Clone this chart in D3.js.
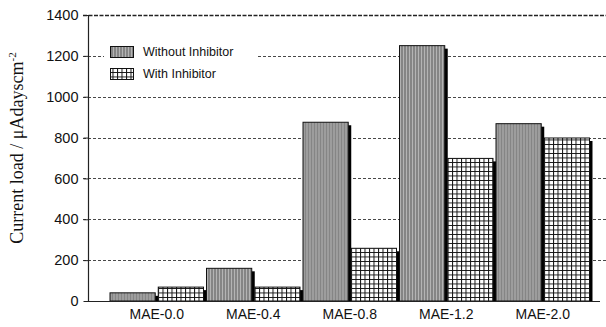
<!DOCTYPE html>
<html>
<head>
<meta charset="utf-8">
<script src="https://cdn.jsdelivr.net/npm/d3@7"></script>
<style>
  html, body { margin: 0; padding: 0; background: #fff; }
  svg { display: block; }
</style>
</head>
<body>
<svg id="chart" width="606" height="327"></svg>
<script>
// Current load per specimen group, with and without inhibitor
const categories = ["MAE-0.0", "MAE-0.4", "MAE-0.8", "MAE-1.2", "MAE-2.0"];
const seriesNames = ["Without Inhibitor", "With Inhibitor"];
const withoutInhibitor = [40, 160, 875, 1250, 868];
const withInhibitor = [68, 68, 258, 698, 798];
const yTicks = [0, 200, 400, 600, 800, 1000, 1200, 1400];

const svg = d3.select("#chart");
const W = 606, H = 327;
const plot = { left: 88, right: 604, top: 15, bottom: 301 };

const defs = svg.append("defs");
// vertical stripe fill
const stripes = defs.append("pattern")
  .attr("id", "stripes").attr("patternUnits", "userSpaceOnUse")
  .attr("width", 3).attr("height", 4);
stripes.append("rect").attr("width", 3).attr("height", 4).attr("fill", "#858585");
stripes.append("rect").attr("x", 2).attr("width", 1).attr("height", 4).attr("fill", "#b4b4b4");
// square grid fill
const grid = defs.append("pattern")
  .attr("id", "grid").attr("patternUnits", "userSpaceOnUse")
  .attr("width", 4.5).attr("height", 4.5);
grid.append("rect").attr("width", 4.5).attr("height", 4.5).attr("fill", "#fff");
grid.append("path").attr("d", "M0,0.5H4.5M0.5,0V4.5")
  .attr("stroke", "#111").attr("stroke-width", 1).attr("fill", "none");

const fills = ["url(#stripes)", "url(#grid)"];

const y = d3.scaleLinear().domain([0, 1400]).range([plot.bottom, plot.top]);
const x = d3.scaleBand().domain(categories).range([108.5, 591]).padding(0);
const xs = d3.scaleBand().domain(seriesNames).range([0, x.bandwidth()])
  .paddingInner(0.0625).paddingOuter(0.03125);

// dashed gridlines with short ticks on the left
const gridG = svg.append("g");
gridG.selectAll("line").data(yTicks.filter(t => t > 0)).join("line")
  .attr("x1", 83).attr("x2", W)
  .attr("y1", d => Math.round(y(d)) + 0.5).attr("y2", d => Math.round(y(d)) + 0.5)
  .attr("stroke", d => d === 1400 ? "#222" : "#333")
  .attr("stroke-width", d => d === 1400 ? 1.4 : 0.9)
  .attr("stroke-dasharray", d => d === 1400 ? "4,1.5" : "3,2");

// y axis
const yAxis = d3.axisLeft(y).tickValues(yTicks).tickFormat(d3.format("d")).tickSize(5).tickPadding(5);
const yg = svg.append("g").attr("transform", `translate(${plot.left + 0.5},0)`).call(yAxis);
yg.select(".domain").remove();
yg.selectAll("line").attr("stroke", "#222");
yg.selectAll("text").attr("font-family", "Liberation Sans, Arial, sans-serif")
  .attr("font-size", 14.5).attr("fill", "#111");
svg.append("line").attr("x1", plot.left + 0.5).attr("x2", plot.left + 0.5)
  .attr("y1", plot.top).attr("y2", plot.bottom).attr("stroke", "#222").attr("stroke-width", 1.2);

// bars
const groups = svg.append("g").selectAll("g").data(categories).join("g")
  .attr("transform", d => `translate(${x(d)},0)`);
const barData = (c, i) => [
  { s: seriesNames[0], v: withoutInhibitor[i], k: 0 },
  { s: seriesNames[1], v: withInhibitor[i], k: 1 }
];
groups.each(function (c, i) {
  const g = d3.select(this);
  const data = barData(c, i);
  // drop shadow
  g.selectAll("rect.shadow").data(data).join("rect").attr("class", "shadow")
    .attr("x", d => xs(d.s) + 3).attr("y", d => y(d.v) + 3)
    .attr("width", xs.bandwidth()).attr("height", d => y(0) - y(d.v) - 3)
    .attr("fill", "#000");
  g.selectAll("rect.bar").data(data).join("rect").attr("class", "bar")
    .attr("x", d => xs(d.s)).attr("y", d => y(d.v))
    .attr("width", xs.bandwidth()).attr("height", d => y(0) - y(d.v))
    .attr("fill", d => fills[d.k]).attr("stroke", "#111").attr("stroke-width", 1);
});

// baseline
svg.append("line").attr("x1", 84).attr("x2", 600)
  .attr("y1", plot.bottom + 0.5).attr("y2", plot.bottom + 0.5)
  .attr("stroke", "#222").attr("stroke-width", 1.2);

// x axis labels
const xAxis = d3.axisBottom(x).tickSize(0).tickPadding(8);
const xg = svg.append("g").attr("transform", `translate(0,${plot.bottom})`).call(xAxis);
xg.select(".domain").remove();
xg.selectAll("text").attr("font-family", "Liberation Sans, Arial, sans-serif")
  .attr("font-size", 14).attr("fill", "#111");

// legend
const legend = svg.append("g");
legend.append("rect").attr("x", 104).attr("y", 38).attr("width", 152).attr("height", 46).attr("fill", "#fff");
seriesNames.forEach((name, i) => {
  const ly = 46 + i * 22;
  legend.append("rect").attr("x", 110.5).attr("y", ly + 0.5).attr("width", 23).attr("height", 11)
    .attr("fill", fills[i]).attr("stroke", "#111").attr("stroke-width", 1);
  legend.append("text").attr("x", 143).attr("y", ly + 10)
    .attr("font-family", "Liberation Sans, Arial, sans-serif").attr("font-size", 12.5)
    .attr("fill", "#111").text(name);
});

// y axis title
const title = svg.append("text")
  .attr("transform", "translate(23,148) rotate(-90)")
  .attr("text-anchor", "middle")
  .attr("font-family", "Liberation Serif, Times New Roman, serif")
  .attr("font-size", 18).attr("fill", "#111");
title.append("tspan").text("Current load / \u03bcAdayscm");
title.append("tspan").attr("dy", -7).attr("font-size", 11).text("-2");
</script>
</body>
</html>
